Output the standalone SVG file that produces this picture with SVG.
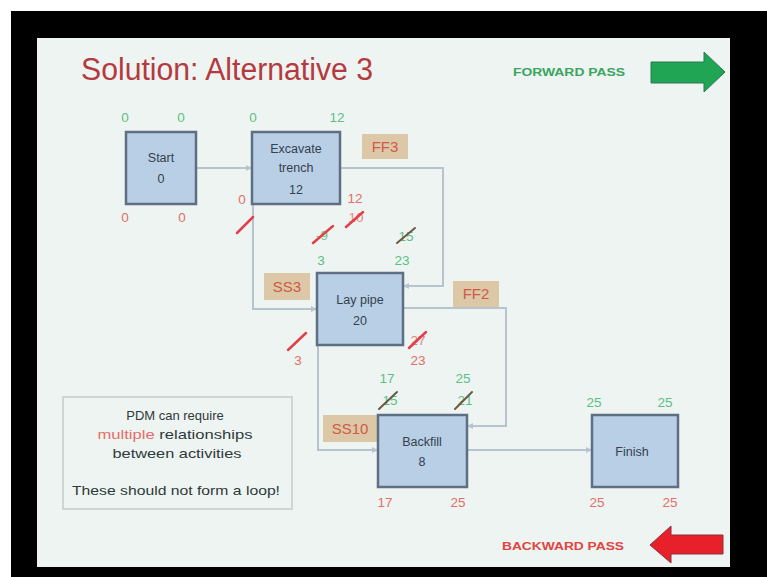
<svg xmlns="http://www.w3.org/2000/svg" width="767" height="577" viewBox="0 0 767 577">
<defs>
<style>
.node rect{fill:#b9cfe5;stroke:#5d6f85;stroke-width:2.5}
.nt{font-family:"Liberation Sans",Arial,sans-serif;font-size:12.5px;fill:#34414e;text-anchor:middle}
.g{font-family:"Liberation Sans",Arial,sans-serif;font-size:13.5px;fill:#5cbf85;text-anchor:middle}
.r{font-family:"Liberation Sans",Arial,sans-serif;font-size:13.5px;fill:#e46e68;text-anchor:middle}
.lab rect{fill:#dcc7a6}
.lab text{font-family:"Liberation Sans",Arial,sans-serif;font-size:15px;fill:#cf5a48;text-anchor:middle}
.conn path{fill:none;stroke:#b7c4cd;stroke-width:2}
.sr{stroke:#e0404a;stroke-width:2.5;stroke-linecap:round}
.sd{stroke:#6b5a40;stroke-width:2;stroke-linecap:round}
.note{font-family:"Liberation Sans",Arial,sans-serif;font-size:13px;fill:#2f3a3a;text-anchor:middle}
</style>
<marker id="ah" markerWidth="6" markerHeight="6" refX="5" refY="3" orient="auto" markerUnits="userSpaceOnUse"><path d="M0,0 L6,3 L0,6 z" fill="#b7c4cd"/></marker>
</defs>
<rect x="0" y="0" width="767" height="577" fill="#ffffff"/>
<rect x="11" y="11" width="756" height="566" fill="#000000"/>
<rect x="37" y="38" width="693" height="529" fill="#eef4f2"/>

<text x="81" y="80" font-family="Liberation Sans,Arial,sans-serif" font-size="31" fill="#b53a3f" textLength="292" lengthAdjust="spacingAndGlyphs">Solution: Alternative 3</text>
<text x="513" y="76" font-family="Liberation Sans,Arial,sans-serif" font-size="11.5" font-weight="bold" fill="#3aa560" textLength="112" lengthAdjust="spacingAndGlyphs">FORWARD PASS</text>
<polygon points="651,62 704,62 704,52 725,72 704,92 704,83 651,83" fill="#1fa553" stroke="#2c7a52" stroke-width="1"/>
<text x="502" y="550" font-family="Liberation Sans,Arial,sans-serif" font-size="11.5" font-weight="bold" fill="#e0453f" textLength="122" lengthAdjust="spacingAndGlyphs">BACKWARD PASS</text>
<polygon points="650,545 671,526 671,535 723,535 723,554 671,554 671,563" fill="#e8202a" stroke="#8a3040" stroke-width="1"/>

<g class="conn" id="connectors">
<path d="M196,168 H251" marker-end="url(#ah)"/>
<path d="M340,168 H443 V286 H404" marker-end="url(#ah)"/>
<path d="M253,204 V309 H316" marker-end="url(#ah)"/>
<path d="M403,308 H506 V426 H468" marker-end="url(#ah)"/>
<path d="M318,345 V450 H377" marker-end="url(#ah)"/>
<path d="M467,450 H591" marker-end="url(#ah)"/>
</g>

<g class="lab" id="lbl-ff3"><rect x="362" y="134" width="46" height="25"/><text x="385" y="152">FF3</text></g>
<g class="lab" id="lbl-ss3"><rect x="264" y="273" width="46" height="27"/><text x="287" y="292">SS3</text></g>
<g class="lab" id="lbl-ff2"><rect x="453" y="281" width="46" height="26"/><text x="476" y="299">FF2</text></g>
<g class="lab" id="lbl-ss10"><rect x="323" y="415" width="54" height="27"/><text x="350" y="434">SS10</text></g>

<g class="node" id="start">
<rect x="126" y="132" width="70" height="72"/>
<text class="nt" x="161" y="162">Start</text><text class="nt" x="161" y="183">0</text>
<text class="g" x="125" y="122">0</text><text class="g" x="181" y="122">0</text>
<text class="r" x="125" y="222">0</text><text class="r" x="182" y="222">0</text>
</g>

<g class="node" id="excavate">
<rect x="252" y="132" width="88" height="72"/>
<text class="nt" x="296" y="153">Excavate</text><text class="nt" x="296" y="172">trench</text><text class="nt" x="296" y="194">12</text>
<text class="g" x="253" y="122">0</text><text class="g" x="337" y="122">12</text>
<text class="r" x="242" y="204">0</text>
<text class="r" x="355" y="203">12</text>
<text class="r" x="356" y="222" opacity="0.8">10</text>
<line class="sr" x1="346" y1="227" x2="363" y2="212"/>
<line class="sr" x1="237" y1="233" x2="253" y2="217"/>
</g>

<g class="node" id="laypipe">
<rect x="317" y="273" width="86" height="72"/>
<text class="nt" x="360" y="304">Lay pipe</text><text class="nt" x="360" y="325">20</text>
<text class="g" x="322" y="240" opacity="0.85">-9</text>
<line class="sr" x1="313" y1="243" x2="333" y2="226"/>
<text class="g" x="321" y="265">3</text>
<text class="g" x="406" y="241" fill="#6f8a55">15</text>
<line class="sd" x1="397" y1="243" x2="415" y2="228"/>
<text class="g" x="402" y="265">23</text>
<line class="sr" x1="288" y1="350" x2="306" y2="333"/>
<text class="r" x="298" y="365">3</text>
<text class="r" x="418" y="345" opacity="0.85">27</text>
<line class="sr" x1="409" y1="348" x2="426" y2="332"/>
<text class="r" x="418" y="365">23</text>
</g>

<g class="node" id="backfill">
<rect x="378" y="415" width="89" height="72"/>
<text class="nt" x="422" y="446">Backfill</text><text class="nt" x="422" y="466">8</text>
<text class="g" x="387" y="383">17</text>
<text class="g" x="390" y="405" fill="#d08a3a">15</text>
<line class="sd" x1="379" y1="409" x2="397" y2="392"/>
<text class="g" x="463" y="383">25</text>
<text class="g" x="465" y="405" fill="#d08a3a">21</text>
<line class="sd" x1="455" y1="409" x2="472" y2="392"/>
<text class="r" x="385" y="507">17</text><text class="r" x="458" y="507">25</text>
</g>

<g class="node" id="finish">
<rect x="592" y="415" width="86" height="72"/>
<text class="nt" x="632" y="456">Finish</text>
<text class="g" x="594" y="407">25</text><text class="g" x="665" y="407">25</text>
<text class="r" x="597" y="507">25</text><text class="r" x="670" y="507">25</text>
</g>

<g id="note">
<rect x="63" y="397" width="229" height="112" fill="#eef4f2" stroke="#c4cbcb" stroke-width="1.5"/>
<text class="note" x="175" y="420">PDM  can require</text>
<text class="note" x="175" y="439" textLength="155" lengthAdjust="spacingAndGlyphs"><tspan fill="#e46e68">multiple</tspan> relationships</text>
<text class="note" x="177" y="458" textLength="129" lengthAdjust="spacingAndGlyphs">between activities</text>
<text class="note" x="176" y="495" textLength="208" lengthAdjust="spacingAndGlyphs">These should not form a loop!</text>
</g>
</svg>
